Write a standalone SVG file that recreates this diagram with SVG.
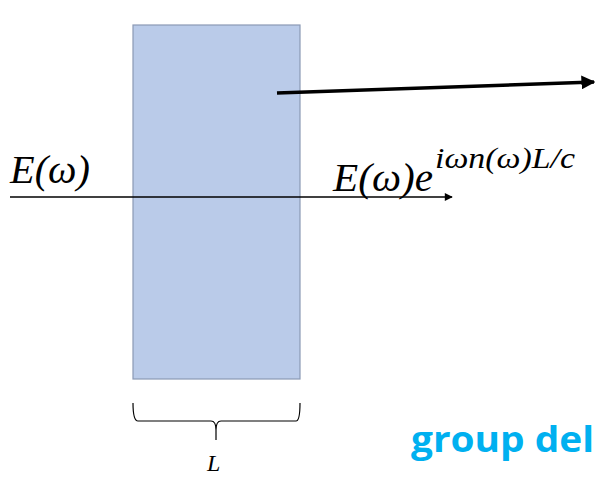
<svg xmlns="http://www.w3.org/2000/svg" width="595" height="477" viewBox="0 0 595 477">
<defs>
<marker id="ah" viewBox="0 0 10 10" refX="9" refY="5" markerWidth="4" markerHeight="4" orient="auto" markerUnits="strokeWidth"><path d="M0,0 L10,5 L0,10 z" fill="#000"/></marker>
<marker id="ahs" viewBox="0 0 10 10" refX="9" refY="5" markerWidth="10" markerHeight="8" orient="auto" markerUnits="userSpaceOnUse"><path d="M0,0 L10,5 L0,10 z" fill="#000"/></marker>
</defs>
<style>
.m{font-family:"Liberation Serif",serif;font-style:italic;fill:#000}
.g{font-family:"Open Sans","Liberation Sans",sans-serif;font-weight:bold;fill:#00B0F0}
</style>
<rect width="595" height="477" fill="#fff"/>
<g id="slab"><rect x="133" y="25" width="167" height="354" fill="#BACBE9" stroke="#8B99B5" stroke-width="1.2"/></g>
<g id="connectors">
<line x1="10" y1="197" x2="452" y2="197" stroke="#000" stroke-width="1.3" marker-end="url(#ahs)"/>
<line x1="277" y1="93" x2="594" y2="82" stroke="#000" stroke-width="3.5" marker-end="url(#ah)"/>
</g>
<g id="in-label"><text class="m" x="10" y="183" font-size="39" textLength="80" lengthAdjust="spacingAndGlyphs">E(ω)</text></g>
<g id="out-label"><text class="m" x="333" y="191" font-size="39" textLength="100" lengthAdjust="spacingAndGlyphs">E(ω)e</text><text class="m" x="435" y="168" font-size="29" textLength="140" lengthAdjust="spacingAndGlyphs">iωn(ω)L/c</text></g>
<g id="brace"><path d="M133,403 Q133,421 138,421 L211,421 Q216,421 216,430 L216,440 M216,430 Q216,421 221,421 L296,421 Q300,421 300,403" fill="none" stroke="#000" stroke-width="1.2"/>
<text class="m" x="207" y="471" font-size="24">L</text></g>
<g id="caption"><text class="g" x="411" y="452" font-size="36" textLength="183" lengthAdjust="spacingAndGlyphs">group del</text></g>
</svg>
